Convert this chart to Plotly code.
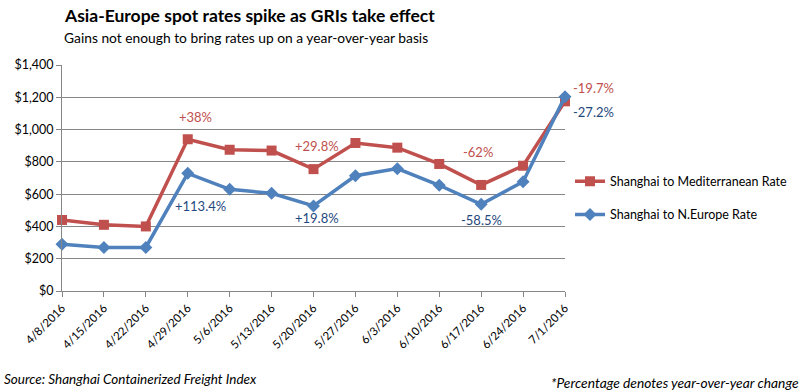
import plotly.graph_objects as go

dates = ["4/8/2016", "4/15/2016", "4/22/2016", "4/29/2016", "5/6/2016", "5/13/2016",
         "5/20/2016", "5/27/2016", "6/3/2016", "6/10/2016", "6/17/2016", "6/24/2016", "7/1/2016"]
med_rate = [440, 410, 400, 940, 875, 870, 755, 917, 888, 787, 657, 776, 1175]
neu_rate = [290, 270, 270, 729, 630, 605, 527, 714, 758, 655, 537, 677, 1204]

med_labels = [("4/29/2016", "+38%"), ("5/20/2016", "+29.8%"), ("6/17/2016", "-62%")]
neu_labels = [("4/29/2016", "+113.4%"), ("5/20/2016", "+19.8%"), ("6/17/2016", "-58.5%")]
end_med_label = "-19.7%"
end_neu_label = "-27.2%"

RED = "#C0504D"
BLUE = "#4F81BD"
RED_TXT = "#C0504D"
BLUE_TXT = "#1F497D"
FONT = "Lato"

fig = go.Figure()
fig.add_trace(go.Scatter(
    x=dates, y=med_rate, mode="lines+markers", name="Shanghai to Mediterranean Rate",
    line=dict(color=RED, width=3.5), marker=dict(symbol="square", size=10, color=RED),
    cliponaxis=False, legendgroup="a"))
fig.add_trace(go.Scatter(
    x=dates, y=neu_rate, mode="lines+markers", name="Shanghai to N.Europe Rate",
    line=dict(color=BLUE, width=3.5), marker=dict(symbol="diamond", size=10, color=BLUE),
    cliponaxis=False, legendgroup="b"))

annos = []
med_map = dict(zip(dates, med_rate))
neu_map = dict(zip(dates, neu_rate))
med_shifts = [(8, 22), (3, 23), (-3, 33)]
neu_shifts = [(13, -33), (3, -12), (0, -16)]
for (d, t), (dx, dy) in zip(med_labels, med_shifts):
    annos.append(dict(x=d, y=med_map[d], text=t, showarrow=False, yshift=dy, xshift=dx,
                      font=dict(color=RED_TXT, size=13, family=FONT)))
for (d, t), (dx, dy) in zip(neu_labels, neu_shifts):
    annos.append(dict(x=d, y=neu_map[d], text=t, showarrow=False, yshift=dy, xshift=dx,
                      font=dict(color=BLUE_TXT, size=13, family=FONT)))
annos.append(dict(x=dates[-1], y=med_rate[-1], text=end_med_label, showarrow=False,
                  xanchor="left", xshift=6, yshift=13, font=dict(color=RED_TXT, size=13, family=FONT)))
annos.append(dict(x=dates[-1], y=neu_rate[-1], text=end_neu_label, showarrow=False,
                  xanchor="left", xshift=6, yshift=-15, font=dict(color=BLUE_TXT, size=13, family=FONT)))

annos.append(dict(xref="paper", yref="paper", x=0, y=1, xanchor="left", yanchor="middle",
                  yshift=50, text="<b>Asia-Europe spot rates spike as GRIs take effect</b>",
                  showarrow=False, font=dict(size=17.5, color="#000000", family=FONT)))
annos.append(dict(xref="paper", yref="paper", x=0, y=1, xanchor="left", yanchor="middle",
                  yshift=28, text="Gains not enough to bring rates up on a year-over-year basis",
                  showarrow=False, font=dict(size=13.8, color="#000000", family=FONT)))
annos.append(dict(xref="paper", yref="paper", x=0, y=0, xanchor="left", yanchor="middle",
                  xshift=-60, yshift=-88, text="<i>Source: Shanghai Containerized Freight Index</i>",
                  showarrow=False, font=dict(size=13.5, color="#000000", family=FONT)))
annos.append(dict(xref="paper", yref="paper", x=1, y=0, xanchor="right", yanchor="middle",
                  xshift=236, yshift=-91, text="<i>*Percentage denotes year-over-year change</i>",
                  showarrow=False, font=dict(size=13.8, color="#000000", family=FONT)))

fig.update_layout(
    width=807, height=390,
    margin=dict(l=62, r=242, t=65, b=99),
    paper_bgcolor="white", plot_bgcolor="white",
    font=dict(family=FONT, size=12, color="#000000"),
    showlegend=True,
    legend=dict(x=1.01, y=0.55, xanchor="left", yanchor="top", tracegroupgap=14,
                traceorder="grouped", itemwidth=30, font=dict(size=12.5, family=FONT),
                bgcolor="rgba(0,0,0,0)"),
    annotations=annos,
    xaxis=dict(type="category", range=[0, 12], showgrid=False, showline=True,
               linecolor="#868686", linewidth=1, ticks="outside", ticklen=5,
               tickcolor="#868686", tickangle=-45, tickfont=dict(size=11.5, family=FONT)),
    yaxis=dict(range=[0, 1400], dtick=200, tickprefix="$", tickformat=",",
               showgrid=True, gridcolor="#868686", gridwidth=1, showline=True,
               linecolor="#868686", ticks="outside", ticklen=5, tickcolor="#868686",
               zeroline=False, tickfont=dict(size=12.5, family=FONT)),
)

fig.write_html("out.html", config={"displayModeBar": False},
               post_script="document.body.style.margin='0';document.body.style.padding='0';")
